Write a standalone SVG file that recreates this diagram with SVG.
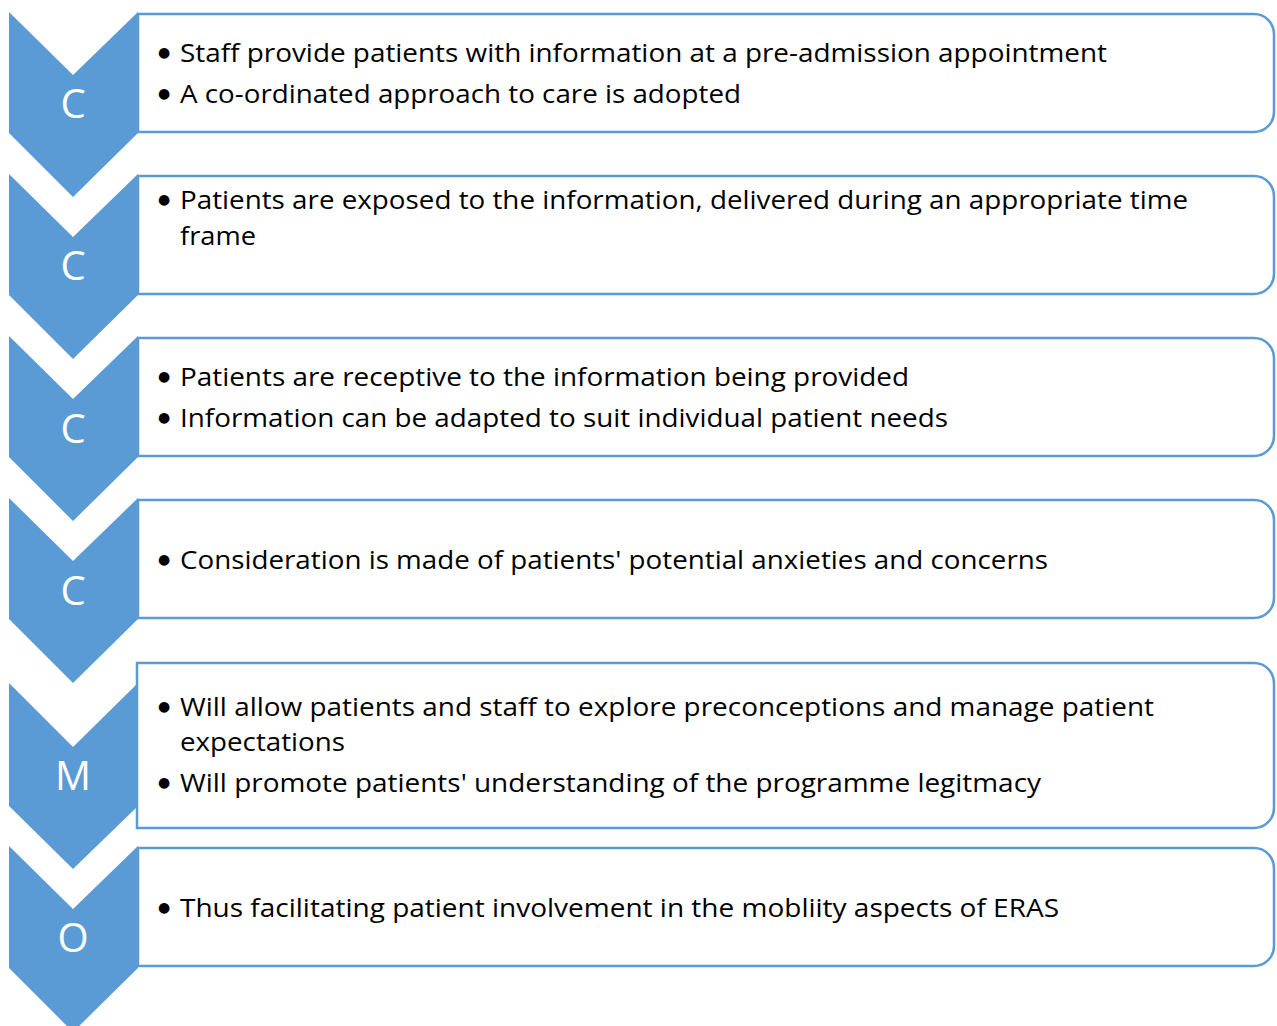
<svg xmlns="http://www.w3.org/2000/svg" width="1277" height="1026" viewBox="0 0 1277 1026">
<style>
.box{fill:#fff;stroke:#5B9BD5;stroke-width:2.5}
.chev{fill:#5B9BD5}
.lbl{font-family:"Open Sans","Noto Sans",sans-serif;font-size:40px;fill:#fff;text-anchor:middle}
.t{font-family:"Open Sans","Noto Sans",sans-serif;font-size:26px;fill:#000}
.b{font-family:"DejaVu Sans",sans-serif;font-size:14px}
</style>
<rect width="1277" height="1026" fill="#fff"/>
<g id="connectors"></g>
<g id="step1">
<path class="box" d="M138,14 H1254 A20,20 0 0 1 1274,34 V112 A20,20 0 0 1 1254,132 H138 Z"/>
<path class="chev" d="M9,12 L73,75 L138,12 V133 L73,197 L9,133 Z"/>
<text class="lbl" x="73" y="118">C</text>
<text class="t" y="62"><tspan class="b" x="158" dy="-5">●</tspan><tspan x="180" dy="5" textLength="927" lengthAdjust="spacingAndGlyphs">Staff provide patients with information at a pre-admission appointment</tspan></text>
<text class="t" y="103"><tspan class="b" x="158" dy="-5">●</tspan><tspan x="180" dy="5" textLength="561" lengthAdjust="spacingAndGlyphs">A co-ordinated approach to care is adopted</tspan></text>
</g>
<g id="step2">
<path class="box" d="M138,176 H1254 A20,20 0 0 1 1274,196 V274 A20,20 0 0 1 1254,294 H138 Z"/>
<path class="chev" d="M9,174 L73,237 L138,174 V295 L73,359 L9,295 Z"/>
<text class="lbl" x="73" y="280">C</text>
<text class="t" y="209"><tspan class="b" x="158" dy="-5">●</tspan><tspan x="180" dy="5" textLength="1008" lengthAdjust="spacingAndGlyphs">Patients are exposed to the information, delivered during an appropriate time</tspan></text>
<text class="t" x="180" y="245" textLength="76" lengthAdjust="spacingAndGlyphs">frame</text>
</g>
<g id="step3">
<path class="box" d="M138,338 H1254 A20,20 0 0 1 1274,358 V436 A20,20 0 0 1 1254,456 H138 Z"/>
<path class="chev" d="M9,336 L73,399 L138,336 V457 L73,521 L9,457 Z"/>
<text class="lbl" x="73" y="443">C</text>
<text class="t" y="386"><tspan class="b" x="158" dy="-5">●</tspan><tspan x="180" dy="5" textLength="729" lengthAdjust="spacingAndGlyphs">Patients are receptive to the information being provided</tspan></text>
<text class="t" y="427"><tspan class="b" x="158" dy="-5">●</tspan><tspan x="180" dy="5" textLength="768" lengthAdjust="spacingAndGlyphs">Information can be adapted to suit individual patient needs</tspan></text>
</g>
<g id="step4">
<path class="box" d="M138,500 H1254 A20,20 0 0 1 1274,520 V598 A20,20 0 0 1 1254,618 H138 Z"/>
<path class="chev" d="M9,498 L73,561 L138,498 V619 L73,683 L9,619 Z"/>
<text class="lbl" x="73" y="605">C</text>
<text class="t" y="569"><tspan class="b" x="158" dy="-5">●</tspan><tspan x="180" dy="5" textLength="868" lengthAdjust="spacingAndGlyphs">Consideration is made of patients' potential anxieties and concerns</tspan></text>
</g>
<g id="step5">
<path class="box" d="M137,663 H1254 A20,20 0 0 1 1274,683 V808 A20,20 0 0 1 1254,828 H137 Z"/>
<path class="chev" d="M9,683 L73,747 L138,683 V806 L73,869 L9,806 Z"/>
<text class="lbl" x="73" y="790">M</text>
<text class="t" y="716"><tspan class="b" x="158" dy="-5">●</tspan><tspan x="180" dy="5" textLength="974" lengthAdjust="spacingAndGlyphs">Will allow patients and staff to explore preconceptions and manage patient</tspan></text>
<text class="t" x="180" y="751" textLength="165" lengthAdjust="spacingAndGlyphs">expectations</text>
<text class="t" y="792"><tspan class="b" x="158" dy="-5">●</tspan><tspan x="180" dy="5" textLength="861" lengthAdjust="spacingAndGlyphs">Will promote patients' understanding of the programme legitmacy</tspan></text>
</g>
<g id="step6">
<path class="box" d="M138,848 H1254 A20,20 0 0 1 1274,868 V946 A20,20 0 0 1 1254,966 H138 Z"/>
<path class="chev" d="M9,846 L73,909 L138,846 V968 L73,1032 L9,968 Z"/>
<text class="lbl" x="73" y="952">O</text>
<text class="t" y="917"><tspan class="b" x="158" dy="-5">●</tspan><tspan x="180" dy="5" textLength="879" lengthAdjust="spacingAndGlyphs">Thus facilitating patient involvement in the mobliity aspects of ERAS</tspan></text>
</g>
</svg>
